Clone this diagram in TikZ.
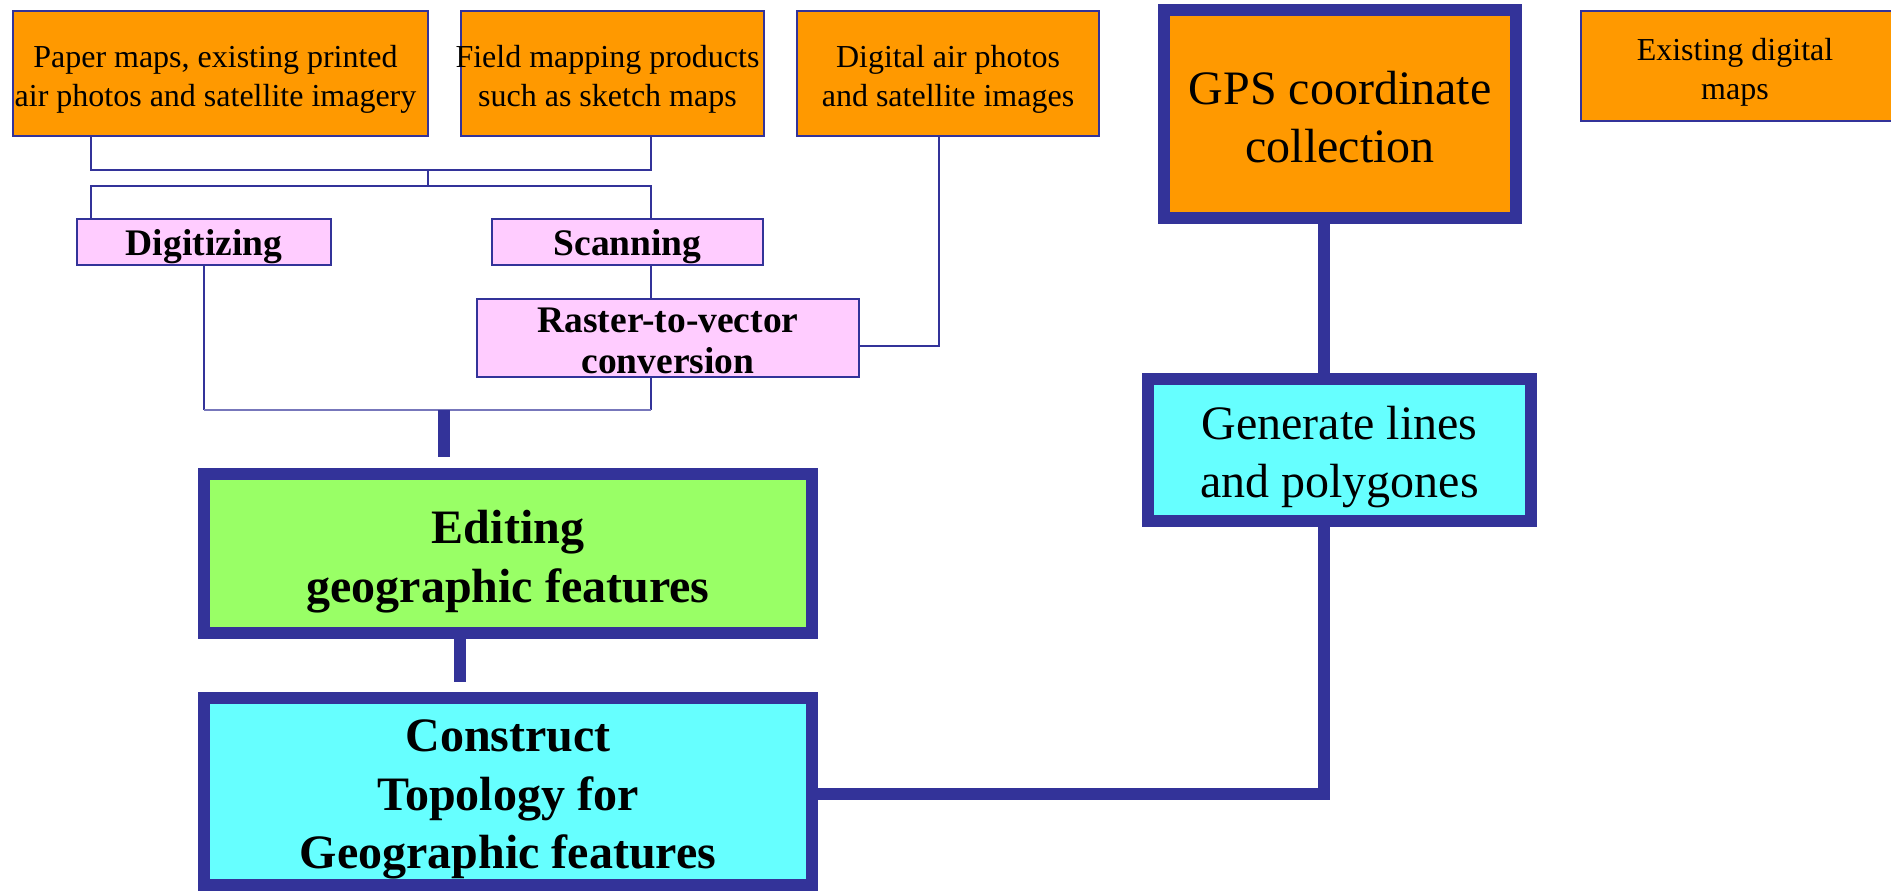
\documentclass[tikz,border=0pt]{standalone}
\usepackage{fontspec}
\setmainfont{Liberation Serif}
\definecolor{bdr}{HTML}{333399}
\definecolor{lbdr}{HTML}{7777BB}
\definecolor{orng}{HTML}{FF9900}
\definecolor{pnk}{HTML}{FFCCFF}
\definecolor{grn}{HTML}{99FF66}
\definecolor{cyn}{HTML}{66FFFF}
\begin{document}
\begin{tikzpicture}[x=1pt,y=-1pt,
  thinbox/.style={draw=bdr, line width=2pt, inner sep=0pt, outer sep=0pt},
  thickbox/.style={draw=bdr, line width=12pt, inner sep=0pt, outer sep=0pt},
  srcbox/.style={thinbox, fill=orng},
  procbox/.style={thinbox, fill=pnk},
  srctext/.style={align=center, text=black, inner sep=0pt, yshift=-6pt, font=\fontsize{32}{39}\selectfont},
  proctext/.style={align=center, text=black, inner sep=0pt, yshift=-5pt, font=\fontsize{37.5}{41}\selectfont\bfseries},
  bigtext/.style={align=center, text=black, inner sep=0pt, yshift=-7pt, font=\fontsize{48}{58}\selectfont},
  bigbold/.style={align=center, text=black, inner sep=0pt, yshift=-8pt, font=\fontsize{48}{58.5}\selectfont\bfseries},
  thinline/.style={draw=bdr, line width=2pt},
  thickline/.style={draw=bdr, line width=12pt}
]
\useasboundingbox[fill=white] (0,0) rectangle (1891,891);

% source boxes
\node[srcbox, minimum width=415pt, minimum height=125pt,
  label={[srctext, xshift=-5pt]center:{Paper maps, existing printed\\air photos and satellite imagery}}] (p1) at (220.5,73.5) {};
\node[srcbox, minimum width=303pt, minimum height=125pt,
  label={[srctext, xshift=-5pt]center:{Field mapping products\\such as sketch maps}}] (p2) at (612.5,73.5) {};
\node[srcbox, minimum width=302pt, minimum height=125pt,
  label={[srctext]center:{Digital air photos\\and satellite images}}] (p3) at (948,73.5) {};
\node[srcbox, minimum width=330pt, minimum height=110pt,
  label={[srctext, xshift=-11pt]center:{Existing digital\\maps}}] (ex) at (1746,66) {};

% processing boxes
\node[procbox, minimum width=254pt, minimum height=46pt,
  label={[proctext]center:{Digitizing}}] (dig) at (204,242) {};
\node[procbox, minimum width=271pt, minimum height=46pt,
  label={[proctext]center:{Scanning}}] (scan) at (627.5,242) {};
\node[procbox, minimum width=382pt, minimum height=78pt,
  label={[proctext, yshift=2pt]center:{Raster-to-vector\\conversion}}] (r2v) at (668,338) {};

% thick boxes
\node[thickbox, fill=orng, minimum width=352pt, minimum height=208pt,
  label={[bigtext, yshift=4pt]center:{GPS coordinate\\collection}}] (gps) at (1340,114) {};
\node[thickbox, fill=cyn, minimum width=383pt, minimum height=142pt,
  label={[bigtext]center:{Generate lines\\and polygones}}] (gen) at (1339.5,450) {};
\node[thickbox, fill=grn, minimum width=608pt, minimum height=159pt,
  label={[bigbold]center:{Editing\\geographic features}}] (edit) at (508,553.5) {};
\node[thickbox, fill=cyn, minimum width=608pt, minimum height=187pt,
  label={[bigbold]center:{Construct\\Topology for\\Geographic features}}] (con) at (508,791.5) {};

% junction coordinates
\coordinate (xa) at (91,0);
\coordinate (xb) at (651,0);
\coordinate (xm) at (428,0);
\coordinate (ya) at (0,170);
\coordinate (yb) at (0,186);
\coordinate (xd) at (204,0);
\coordinate (yc) at (0,410);
\coordinate (xp) at (939,0);
\coordinate (yp) at (0,346);
\coordinate (s1a) at (444,410);
\coordinate (s1b) at (444,457);
\coordinate (s2a) at (460,639);
\coordinate (s2b) at (460,682);
\coordinate (xg) at (1324,0);
\coordinate (yg) at (0,794);

% thin connectors
\draw[thinline] (xa |- p1.south) -- (xa |- ya) -- (xb |- ya) -- (xb |- p2.south);
\draw[thinline] (xm |- ya) -- (xm |- yb);
\draw[thinline] (xa |- dig.north) -- (xa |- yb) -- (xb |- yb) -- (xb |- scan.north);
\draw[thinline] (xb |- scan.south) -- (xb |- r2v.north);
\draw[thinline] (xp |- p3.south) -- (xp |- yp) -- (yp -| r2v.east);
\draw[thinline] (xd |- dig.south) -- (xd |- yc);
\draw[thinline] (xb |- r2v.south) -- (xb |- yc);
\draw[draw=lbdr, line width=2.5pt] (xd |- yc) -- (xb |- yc);

% thick connectors
\draw[thickline] (s1a) -- (s1b);
\draw[thickline] (s2a) -- (s2b);
\draw[thickline] (xg |- gps.south) -- (xg |- gen.north);
\draw[thickline] (xg |- gen.south) -- (xg |- yg) -- (yg -| con.east);
\end{tikzpicture}
\end{document}
